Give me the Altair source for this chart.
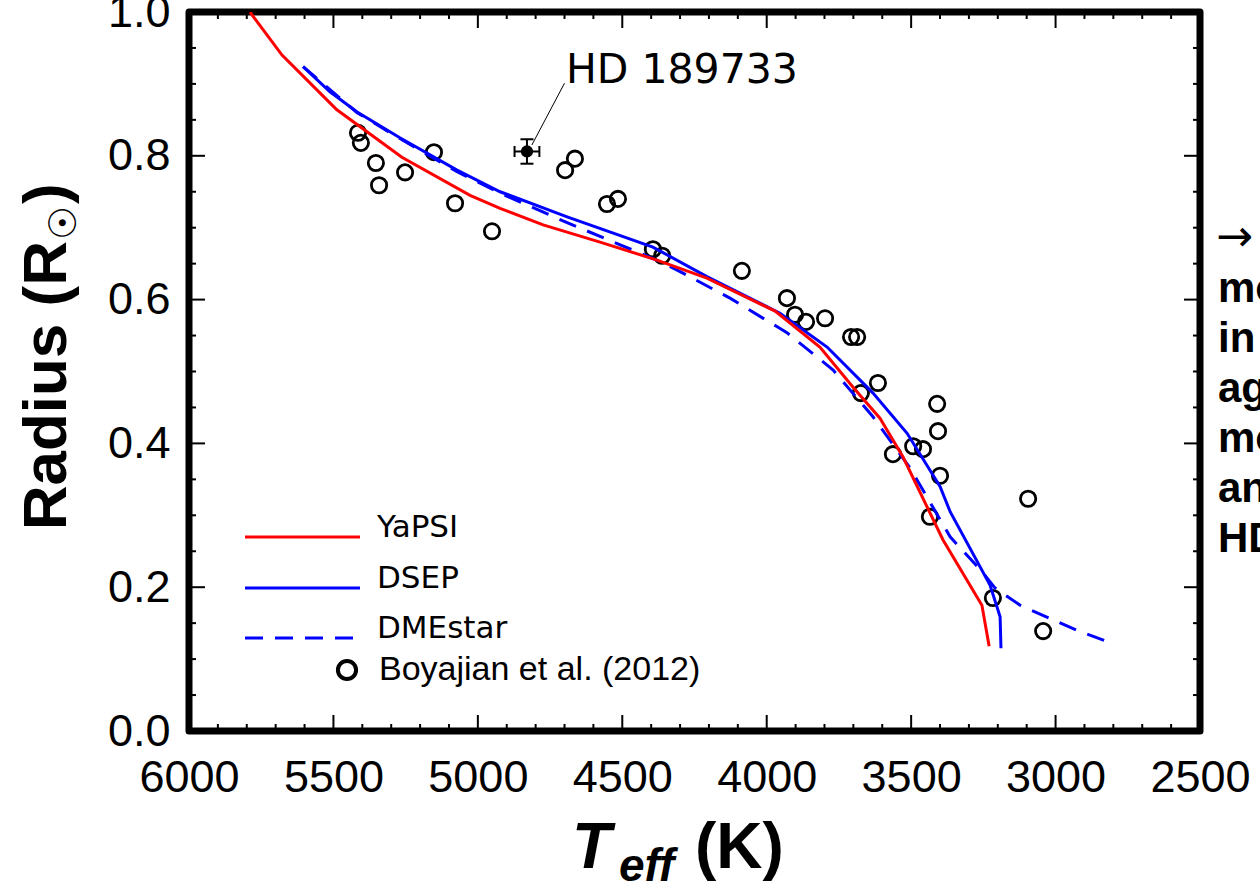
import altair as alt
import pandas as pd

# ---------------- data ----------------
boy_teff = [5415, 5405, 5353, 5252, 5342, 5152, 5079, 4951, 4698, 4664, 4553, 4515,
            4394, 4362, 4086, 3930, 3902, 3864, 3798, 3708, 3687, 3615, 3674, 3410,
            3407, 3493, 3459, 3563, 3400, 3435, 3095, 3217, 3043]
boy_r = [0.832, 0.818, 0.790, 0.777, 0.759, 0.805, 0.734, 0.695, 0.780, 0.796, 0.733, 0.740,
         0.670, 0.661, 0.640, 0.602, 0.579, 0.569, 0.574, 0.548, 0.548, 0.484, 0.470, 0.455,
         0.417, 0.396, 0.392, 0.385, 0.355, 0.298, 0.323, 0.185, 0.139]

yapsi_teff = [5789, 5678, 5488, 5263, 5027, 4923, 4774, 4577, 4380, 4207, 3971, 3816,
              3701, 3608, 3528, 3390, 3255, 3230]
yapsi_r = [1.0, 0.940, 0.864, 0.798, 0.745, 0.727, 0.704, 0.680, 0.655, 0.630, 0.584, 0.534,
           0.478, 0.435, 0.381, 0.266, 0.175, 0.118]

dsep_teff = [5605, 5512, 5418, 5270, 5072, 4923, 4691, 4394, 4207, 3954, 3791, 3632,
             3514, 3400, 3365, 3227, 3192, 3189]
dsep_r = [0.924, 0.889, 0.861, 0.825, 0.780, 0.750, 0.715, 0.673, 0.632, 0.581, 0.534, 0.470,
          0.414, 0.340, 0.305, 0.203, 0.159, 0.115]

dme_teff = [5605, 5418, 5270, 5072, 4923, 4691, 4369, 4300, 4127, 3930, 3770, 3632,
            3504, 3365, 3251, 3210, 3123, 2926, 2805]
dme_r = [0.924, 0.860, 0.824, 0.778, 0.748, 0.707, 0.653, 0.639, 0.602, 0.554, 0.502, 0.437,
         0.366, 0.270, 0.220, 0.199, 0.175, 0.140, 0.122]

hd_teff, hd_teff_err = 4830, 43
hd_r, hd_r_err = 0.806, 0.017
hd_label = "HD 189733"
leader_teff = [4813, 4700]
leader_r = [0.815, 0.901]

x_major = [6000, 5500, 5000, 4500, 4000, 3500, 3000, 2500]
y_major = [0.0, 0.2, 0.4, 0.6, 0.8, 1.0]
x_minor = [t for t in range(2600, 6000, 100) if t % 500 != 0]
y_minor = [round(i * 0.05, 2) for i in range(1, 20) if i % 4 != 0]

legend_labels = ["YaPSI", "DSEP", "DMEstar"]
points_label = "Boyajian et al. (2012)"
side_lines = ["\u2192", "mo", "in", "ag", "mo", "an", "HD"]

# ---------------- layout ----------------
W, H = 1011, 719
PADL, PADT, PADR, PADB = 189, 12, 60, 158

xs = alt.Scale(domain=[2500, 6000], reverse=True, nice=False, zero=False)
ys = alt.Scale(domain=[0, 1], nice=False, zero=False)
LAB_FONT = "Liberation Sans"
LEG_FONT = "DejaVu Sans"

XAX = alt.Axis(values=x_major, format="d", labelFontSize=45, labelFont=LAB_FONT,
               labelColor="black", ticks=False, domain=False, grid=False, title=None,
               labelPadding=24, labelFlush=False, labelOverlap=False)
YAX = alt.Axis(values=y_major, format=".1f", labelFontSize=45, labelFont=LAB_FONT,
               labelColor="black", ticks=False, domain=False, grid=False, title=None,
               labelPadding=19, labelFlush=False, labelOverlap=False)

def X(f):
    return alt.X(f, scale=xs, axis=XAX)

def Y(f):
    return alt.Y(f, scale=ys, axis=YAX)

def one():
    return pd.DataFrame({"k": [0]})

layers = []

# Boyajian points
boy = pd.DataFrame({"teff": boy_teff, "r": boy_r})
layers.append(
    alt.Chart(boy).mark_point(shape="circle", size=235, filled=False, color="black",
                              strokeWidth=2.8, opacity=1).encode(x=X("teff:Q"), y=Y("r:Q"))
)

def line_layer(teff, r, color, dash=None):
    df = pd.DataFrame({"teff": teff, "r": r, "i": list(range(len(teff)))})
    kw = dict(color=color, strokeWidth=3, clip=True)
    if dash:
        kw["strokeDash"] = dash
    return alt.Chart(df).mark_line(**kw).encode(
        x=X("teff:Q"), y=Y("r:Q"), order=alt.Order("i:Q"))

layers.append(line_layer(dme_teff, dme_r, "#0000ff", [18, 12]))
layers.append(line_layer(dsep_teff, dsep_r, "#0000ff"))
layers.append(line_layer(yapsi_teff, yapsi_r, "#ff0000"))

# HD 189733 with error bars
hd = pd.DataFrame({"t": [hd_teff], "r": [hd_r],
                   "tlo": [hd_teff - hd_teff_err], "thi": [hd_teff + hd_teff_err],
                   "rlo": [hd_r - hd_r_err], "rhi": [hd_r + hd_r_err]})
layers.append(alt.Chart(hd).mark_rule(color="black", strokeWidth=2).encode(
    x=X("tlo:Q"), x2="thi:Q", y=Y("r:Q")))
layers.append(alt.Chart(hd).mark_rule(color="black", strokeWidth=2).encode(
    x=X("t:Q"), y=Y("rlo:Q"), y2="rhi:Q"))
capx = pd.DataFrame({"t": [hd_teff - hd_teff_err, hd_teff + hd_teff_err], "r": [hd_r, hd_r]})
layers.append(alt.Chart(capx).mark_tick(orient="vertical", size=11, thickness=2, color="black", opacity=1).encode(
    x=X("t:Q"), y=Y("r:Q")))
capy = pd.DataFrame({"t": [hd_teff, hd_teff], "r": [hd_r - hd_r_err, hd_r + hd_r_err]})
layers.append(alt.Chart(capy).mark_tick(orient="horizontal", size=13, thickness=2, color="black", opacity=1).encode(
    x=X("t:Q"), y=Y("r:Q")))
layers.append(alt.Chart(hd).mark_point(shape="circle", size=150, filled=True, color="black", opacity=1).encode(
    x=X("t:Q"), y=Y("r:Q")))
lead = pd.DataFrame({"t1": [leader_teff[0]], "t2": [leader_teff[1]],
                     "r1": [leader_r[0]], "r2": [leader_r[1]]})
layers.append(alt.Chart(lead).mark_rule(color="black", strokeWidth=1).encode(
    x=X("t1:Q"), x2="t2:Q", y=Y("r1:Q"), y2="r2:Q"))
hdl = pd.DataFrame({"t": [leader_teff[1] - 5], "r": [leader_r[1]], "lab": [hd_label]})
layers.append(alt.Chart(hdl).mark_text(align="left", baseline="alphabetic", font=LEG_FONT,
                                       fontSize=41, color="black").encode(
    x=X("t:Q"), y=Y("r:Q"), text="lab:N"))

# inward ticks on all four sides
def xticks(vals, length):
    df = pd.DataFrame({"v": vals})
    base = alt.Chart(df).mark_rule(color="black", strokeWidth=2)
    return [base.encode(x=X("v:Q"), y=alt.value(H), y2=alt.value(H - length)),
            base.encode(x=X("v:Q"), y=alt.value(0), y2=alt.value(length))]

def yticks(vals, length):
    df = pd.DataFrame({"v": vals})
    base = alt.Chart(df).mark_rule(color="black", strokeWidth=2)
    return [base.encode(y=Y("v:Q"), x=alt.value(0), x2=alt.value(length)),
            base.encode(y=Y("v:Q"), x=alt.value(W), x2=alt.value(W - length))]

layers += xticks(x_major, 16) + xticks(x_minor, 7) + yticks(y_major, 16) + yticks(y_minor, 7)

# legend
leg_y = [525, 576, 626]
leg_styles = [("#ff0000", None), ("#0000ff", None), ("#0000ff", [18, 12])]
for lab, yy, (col, dash) in zip(legend_labels, leg_y, leg_styles):
    kw = dict(color=col, strokeWidth=3)
    if dash:
        kw["strokeDash"] = dash
    layers.append(alt.Chart(one()).mark_rule(**kw).encode(
        x=alt.value(56), x2=alt.value(171), y=alt.value(yy)))
    layers.append(alt.Chart(one()).mark_text(align="left", baseline="alphabetic", font=LEG_FONT,
                                             fontSize=31, color="black", text=lab).encode(
        x=alt.value(188), y=alt.value(yy)))
layers.append(alt.Chart(one()).mark_point(shape="circle", size=330, filled=False, color="black",
                                          strokeWidth=4, opacity=1).encode(
    x=alt.value(158), y=alt.value(658)))
layers.append(alt.Chart(one()).mark_text(align="left", baseline="alphabetic", font=LAB_FONT,
                                         fontSize=34, color="black", text=points_label).encode(
    x=alt.value(190), y=alt.value(668)))

# axis titles
RX = 47 - PADL
R_END = 241 - PADT
layers.append(alt.Chart(one()).mark_text(align="right", baseline="middle", font=LAB_FONT, fontWeight="bold",
                                         fontSize=62, angle=270, color="black", text="Radius (R").encode(
    x=alt.value(RX), y=alt.value(R_END)))
layers.append(alt.Chart(one()).mark_text(align="left", baseline="middle", font="DejaVu Sans", fontWeight="bold",
                                         fontSize=38, angle=270, color="black", text="\u2609").encode(
    x=alt.value(RX + 18), y=alt.value(R_END - 1)))
layers.append(alt.Chart(one()).mark_text(align="left", baseline="middle", font=LAB_FONT, fontWeight="bold",
                                         fontSize=62, angle=270, color="black", text=")").encode(
    x=alt.value(RX), y=alt.value(R_END - 37)))

layers.append(alt.Chart(one()).mark_text(align="left", baseline="alphabetic", font=LAB_FONT, fontWeight="bold",
                                         fontStyle="italic", fontSize=64, color="black", text="T").encode(
    x=alt.value(572 - PADL), y=alt.value(868 - PADT)))
layers.append(alt.Chart(one()).mark_text(align="left", baseline="alphabetic", font=LAB_FONT, fontWeight="bold",
                                         fontStyle="italic", fontSize=46, color="black", text="eff").encode(
    x=alt.value(619 - PADL), y=alt.value(881 - PADT)))
layers.append(alt.Chart(one()).mark_text(align="left", baseline="alphabetic", font=LAB_FONT, fontWeight="bold",
                                         fontSize=64, color="black", text="(K)").encode(
    x=alt.value(695 - PADL), y=alt.value(868 - PADT)))

# side text, cut at the right edge as in the reference
for j, s in enumerate(side_lines):
    if j == 0:
        layers.append(alt.Chart(one()).mark_text(align="left", baseline="middle", font="DejaVu Sans",
                                                 fontSize=44, color="black", text=s).encode(
            x=alt.value(1216 - PADL), y=alt.value(238 - PADT)))
    else:
        layers.append(alt.Chart(one()).mark_text(align="left", baseline="alphabetic", font=LAB_FONT,
                                                 fontWeight="bold", fontSize=42, color="black", text=s).encode(
            x=alt.value(1218 - PADL), y=alt.value(252 + 50 * j - PADT)))

chart = alt.layer(*layers).properties(
    width=W, height=H,
    autosize=alt.AutoSizeParams(type="none"),
    padding={"left": PADL, "top": PADT, "right": PADR, "bottom": PADB},
).configure_view(stroke="black", strokeWidth=7, strokeJoin="round")

chart.save("out.html", embed_options={"renderer": "svg", "actions": False})
